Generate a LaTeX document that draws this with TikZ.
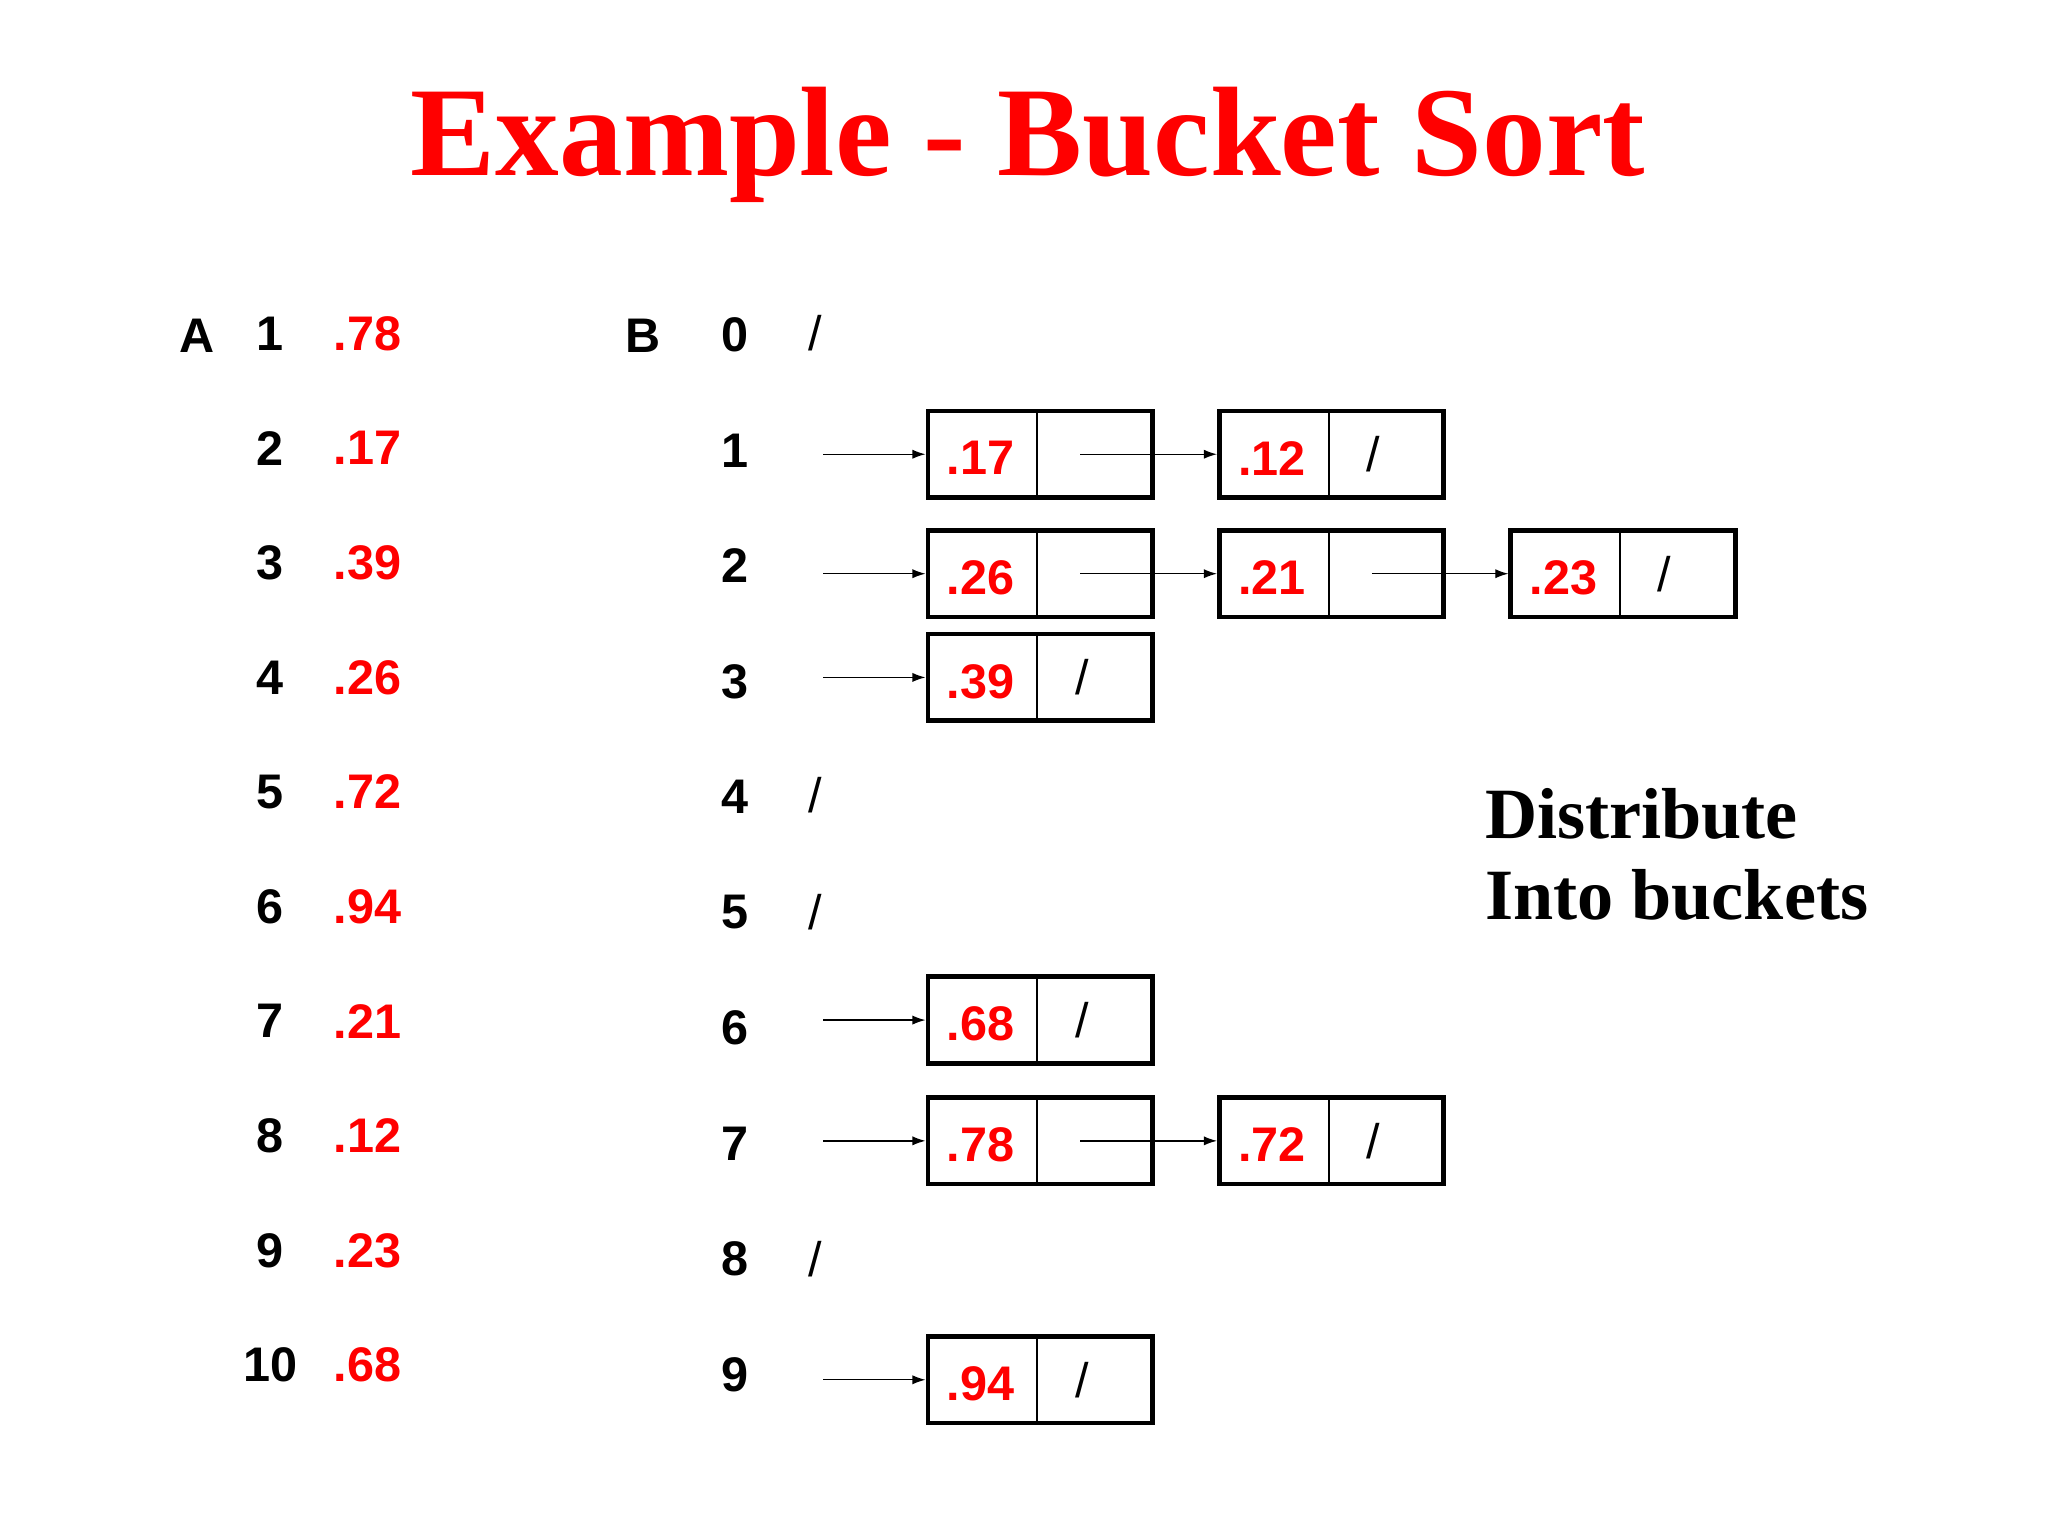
\documentclass[tikz,border=0pt]{standalone}
\usepackage{fontspec}
\setmainfont{Liberation Serif}
\setsansfont{Liberation Sans}
\usetikzlibrary{arrows.meta}
\begin{document}
\begin{tikzpicture}[x=1pt,y=-1pt,
  lab/.style={font=\sffamily\bfseries\fontsize{37}{40}\selectfont,inner sep=0},
  val/.style={lab,text=red},
  cell/.style={draw=black,line width=3.5pt,minimum width=171pt,minimum height=66pt,inner sep=0},
  ptr/.style={line width=1pt,-{Latex[length=10pt,width=7pt]}}]
\useasboundingbox (0,0) rectangle (1560,1170);
\fill[white] (0,0) rectangle (1560,1170);
\node[font=\bfseries\fontsize{97}{97}\selectfont,text=red] (title) at (783,110) {Example - Bucket Sort};
\node[lab] (A) at (150,256) {A};
\node[lab] (B) at (490,256) {B};
\foreach \v [count=\i, evaluate=\i as \y using {254+87.3*(\i-1)}] in {.78,.17,.39,.26,.72,.94,.21,.12,.23,.68}{
  \node[lab] (ai\i) at (206,\y) {\i};
  \node[val] (av\i) at (280,\y) {\v};
}
\foreach \i [evaluate=\i as \y using {255+88*\i}] in {0,...,9}{
  \node[lab] (bi\i) at (560,\y) {\i};
}
\foreach \i/\y in {0/254,4/606,5/695,8/959}{
  \node[lab,font=\sffamily\fontsize{37}{40}\selectfont] (s\i) at (621,\y) {/};
}
\foreach \n/\x/\y/\v/\nul in {b1a/705/346/.17/0,b1b/927/346/.12/1,
  b2a/705/437/.26/0,b2b/927/437/.21/0,b2c/1149/437/.23/1,
  b3a/705/516/.39/1,b6a/705/777/.68/1,b7a/705/869/.78/0,b7b/927/869/.72/1,b9a/705/1051/.94/1}{
  \node[cell,anchor=west] (\n) at (\x,\y) {};
  \draw[line width=1.5pt] (\x+85,\y-33) -- (\x+85,\y+33);
  \node[val] (\n v) at (\x+42,\y+3) {\v};
  \ifnum\nul=1 \node[lab,font=\sffamily\fontsize{37}{40}\selectfont] (\n n) at (\x+119,\y) {/};\fi
  \coordinate (\n p) at (\x+118,\y);
}
\foreach \r/\y in {1/346,2/437,3/516,6/777,7/869,9/1051}{
  \coordinate (st\r) at (627,\y);
  \draw[ptr] (st\r) -- (b\r a.west);
}
\draw[ptr] (b1ap) -- (b1b.west);
\draw[ptr] (b2ap) -- (b2b.west);
\draw[ptr] (b2bp) -- (b2c.west);
\draw[ptr] (b7ap) -- (b7b.west);
\node[font=\bfseries\fontsize{55}{62}\selectfont,align=left,anchor=north west,inner sep=0] (dist) at (1131,600) {Distribute\\Into buckets};
\end{tikzpicture}
\end{document}
